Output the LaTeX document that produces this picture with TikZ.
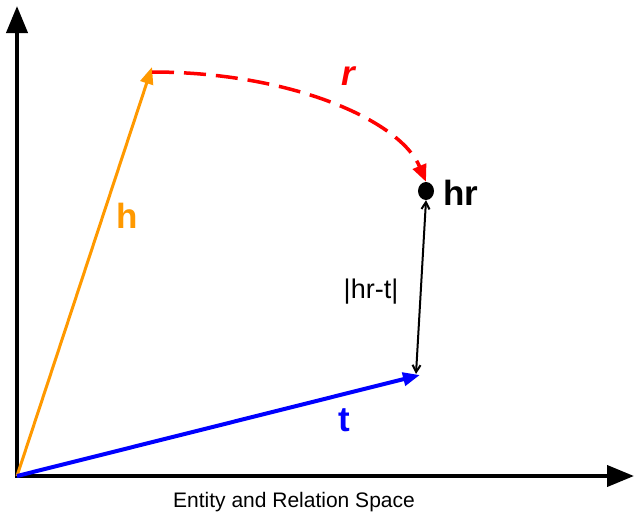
\documentclass[tikz,border=0pt]{standalone}
\usepackage{fontspec}
\setmainfont{Liberation Sans}
\usetikzlibrary{arrows.meta,shapes.geometric}
\definecolor{horange}{HTML}{FF9900}
\definecolor{rred}{HTML}{FF0000}
\definecolor{tblue}{HTML}{0000FF}
\begin{document}
\begin{tikzpicture}[x=1pt,y=-1pt,
  axis/.style={line width=4pt,-{Triangle[length=27pt,width=21pt]}},
  vec/.style={-{Triangle[length=17pt,width=13pt]}},
  lbl/.style={inner sep=0pt,font=\fontsize{35}{38}\selectfont\bfseries}]
\useasboundingbox (0,0) rectangle (636,514);
\coordinate (O) at (17,476);
\coordinate (Ytop) at (17,6);
\coordinate (Xend) at (634,476);
\coordinate (H) at (152,67);
\coordinate (T) at (420,375);
\node[ellipse,fill=black,minimum width=16pt,minimum height=18pt,inner sep=0pt] (hr) at (426,191) {};
\draw[axis] (O) -- (Ytop);
\draw[axis] ([xshift=-2pt]O) -- (Xend);
\draw[vec,horange,line width=3pt] (O) -- (H);
\draw[vec,tblue,line width=4pt] (O) -- (T);
\draw[rred,line width=3.5pt,dash pattern=on 22pt off 10pt,-{Triangle[length=17pt,width=14pt]}]
  ([yshift=-5pt]H) .. controls (290,72) and (400,120) .. (hr.north);
\draw[black,line width=2pt,{Straight Barb[length=7pt,width=8pt]}-{Straight Barb[length=7pt,width=8pt]}]
  (hr.south) -- ([xshift=-4pt,yshift=1pt]T);
\node[lbl,anchor=west] (hrl) at (443,193) {hr};
\node[lbl,text=horange] (hl) at (127,216) {h};
\node[lbl,text=tblue] (tl) at (344,420) {t};
\node[lbl,text=rred,font=\fontsize{35}{38}\selectfont\bfseries\itshape] (rl) at (348,76) {r};
\node[inner sep=0pt,font=\fontsize{27}{30}\selectfont] (dl) at (371,292) {|hr-t|};
\node[inner sep=0pt,font=\fontsize{21}{24}\selectfont] (cap) at (294,502) {Entity and Relation Space};
\end{tikzpicture}
\end{document}
